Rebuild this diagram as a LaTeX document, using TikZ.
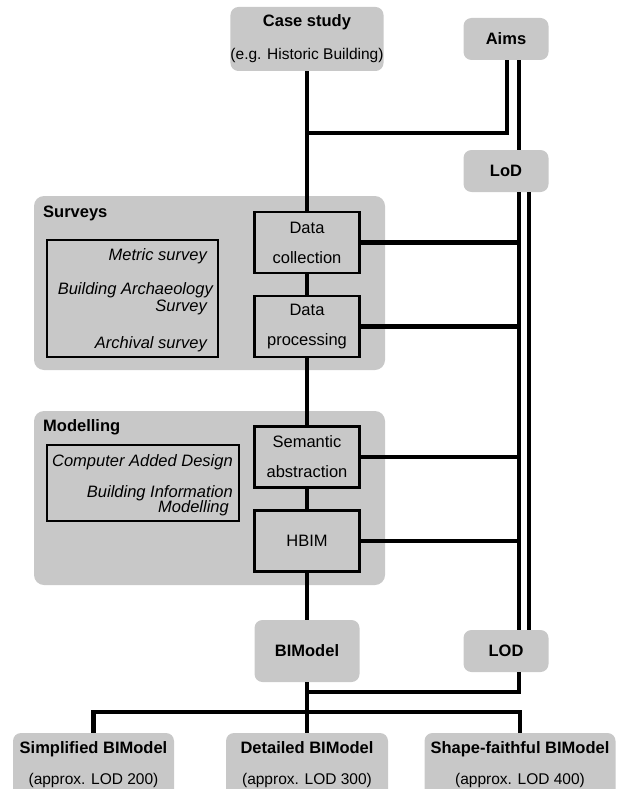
\documentclass[tikz,border=0pt]{standalone}
\usepackage{fontspec}
\setmainfont{Liberation Sans}
\definecolor{boxgray}{RGB}{200,200,200}
\newcommand{\subline}[1]{{\fontsize{15.5}{18}\selectfont #1}}

\begin{document}
\begin{tikzpicture}[x=1pt,y=-1pt,
  every node/.style={font=\fontsize{16.5}{19}\selectfont},
  grey/.style={fill=boxgray,rounded corners=8pt,align=center,inner sep=0pt},
  panel/.style={fill=boxgray,rounded corners=10pt,inner sep=0pt},
  stepbox/.style={draw,line width=2.2pt,fill=boxgray,align=center,inner sep=0pt,minimum width=105pt,minimum height=61pt},
  listbox/.style={draw,line width=2.2pt,inner sep=0pt},
  item/.style={anchor=east,font=\fontsize{16.5}{19}\selectfont\itshape,inner sep=0pt},
  link/.style={line width=4.2pt}]

\useasboundingbox (0,0) rectangle (623,789);

% Inputs at the top
\node[grey,minimum width=153pt,minimum height=64pt] (case) at (307,39) {\textbf{Case study}\\[14pt]\subline{(e.g. Historic Building)}};
\node[grey,minimum width=85pt,minimum height=42pt] (aims) at (506,39) {\textbf{Aims}};
\node[grey,minimum width=85pt,minimum height=42pt] (lod) at (506,171) {\textbf{LoD}};

% Surveys panel
\node[panel,minimum width=351pt,minimum height=174pt] (surveys) at (209.5,283) {};
\node[anchor=west,inner sep=0pt] (surveystitle) at (43,213) {\textbf{Surveys}};
\node[listbox,minimum width=171pt,minimum height=117pt] (surveylist) at (132.5,298.5) {};
\node[item] (metric) at (207,256) {Metric survey};
\node[item] (archaeo) at (213,290) {Building Archaeology};
\node[item] (archaeob) at (207,307) {Survey};
\node[item] (archival) at (207,344) {Archival survey};
\node[stepbox] (coll) at (307,242.5) {Data\\[11pt]collection};
\node[stepbox] (proc) at (307,326.5) {Data\\[11pt]processing};

% Modelling panel
\node[panel,minimum width=351pt,minimum height=174pt] (modelling) at (209.5,498) {};
\node[anchor=west,inner sep=0pt] (modeltitle) at (43,427) {\textbf{Modelling}};
\node[listbox,minimum width=192pt,minimum height=76pt] (modellist) at (143,483) {};
\node[item] (cad) at (233,462) {Computer Added Design};
\node[item] (bimtext) at (233,493) {Building Information};
\node[item] (bimtextb) at (229,508) {Modelling};
\node[stepbox] (sem) at (307,457) {Semantic\\[11pt]abstraction};
\node[stepbox] (hbim) at (307,541) {HBIM};

% Outputs
\node[grey,minimum width=105pt,minimum height=62pt] (bim) at (307,651) {\textbf{BIModel}};
\node[grey,minimum width=85pt,minimum height=42pt] (lodout) at (506,651) {\textbf{LOD}};
\node[grey,minimum width=161pt,minimum height=64pt] (simp) at (93.5,765) {\textbf{Simplified BIModel}\\[12pt]\subline{(approx. LOD 200)}};
\node[grey,minimum width=162pt,minimum height=64pt] (det) at (307,765) {\textbf{Detailed BIModel}\\[12pt]\subline{(approx. LOD 300)}};
\node[grey,minimum width=191pt,minimum height=64pt] (shape) at (520,765) {\textbf{Shape-faithful BIModel}\\[12pt]\subline{(approx. LOD 400)}};

% Main line
\draw[link] (case) -- (coll);
\draw[link] (coll) -- (proc);
\draw[link] (proc) -- (sem);
\draw[link] (sem) -- (hbim);
\draw[link] (hbim) -- (bim);

% Aims and LoD
\coordinate (aimsjoin) at (307,133);
\draw[link] (aimsjoin) -| ([xshift=1pt]aims.south);
\draw[link] ([xshift=13pt]aims.south) -- ([xshift=13pt]lod.north);
\draw[link] ([xshift=13pt]lod.south) -- ([xshift=13pt]lodout.north);
\draw[link] ([xshift=23pt]lod.south) -- ([xshift=23pt]lodout.north);
\coordinate (rail) at ([xshift=13pt]lod.south);
\foreach \n in {coll,proc,sem,hbim}
  \draw[link] (\n.east) -- (\n.east -| rail);

% Split into the three models
\coordinate (lodjoin) at (307,692);
\coordinate (split) at (307,712);
\draw[link] (bim) -- (split);
\draw[link] ([xshift=13pt]lodout.south) |- (lodjoin);
\draw[link] (simp.north) |- (split) -| (shape.north);
\draw[link] (split) -- (det);

\end{tikzpicture}
\end{document}
